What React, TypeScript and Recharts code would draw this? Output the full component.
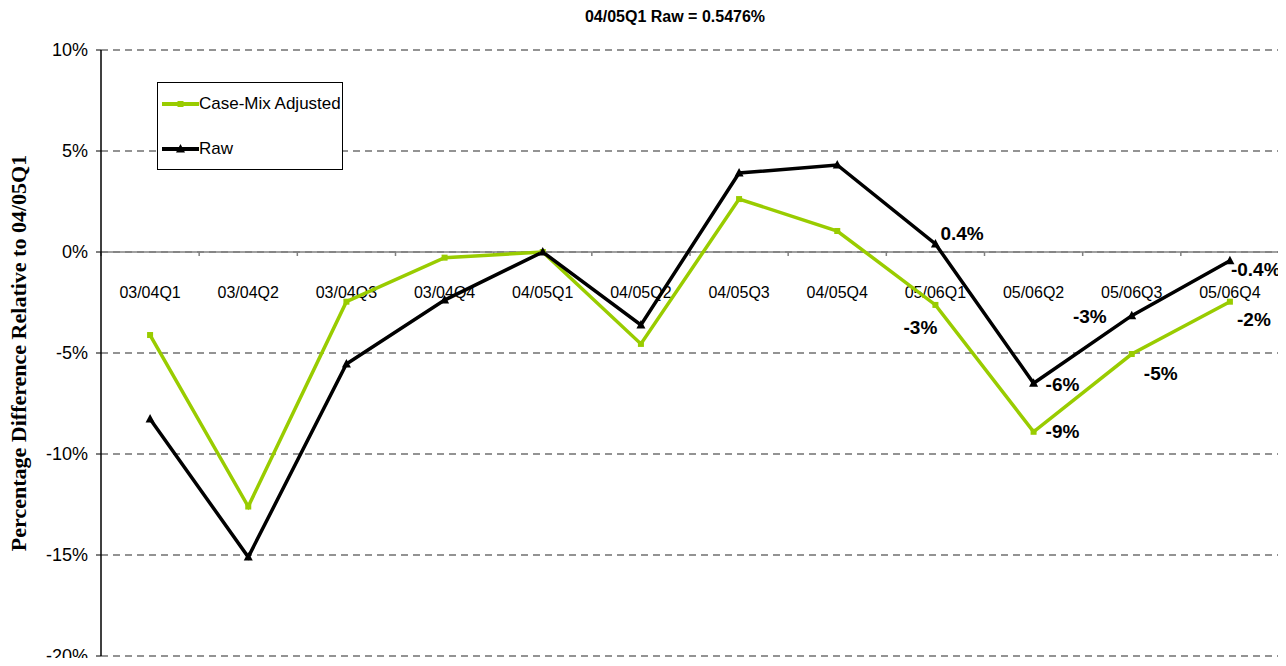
import React from "react";
import {
  LineChart,
  Line,
  XAxis,
  YAxis,
  CartesianGrid,
  ReferenceLine,
  Legend,
  LabelList,
} from "recharts";

const categories = [
  "03/04Q1", "03/04Q2", "03/04Q3", "03/04Q4",
  "04/05Q1", "04/05Q2", "04/05Q3", "04/05Q4",
  "05/06Q1", "05/06Q2", "05/06Q3", "05/06Q4",
];
const adjustedValues = [-4.11, -12.6, -2.46, -0.28, 0, -4.55, 2.62, 1.04, -2.62, -8.9, -5.05, -2.46];
const rawValues = [-8.27, -15.1, -5.54, -2.38, 0, -3.61, 3.91, 4.31, 0.4, -6.5, -3.15, -0.43];
const adjustedLabels = [null, null, null, null, null, null, null, null, "-3%", "-9%", "-5%", "-2%"];
const rawLabels = [null, null, null, null, null, null, null, null, "0.4%", "-6%", "-3%", "-0.4%"];
const yTicks = [-20, -15, -10, -5, 0, 5, 10];
const titleText = "04/05Q1 Raw = 0.5476%";
const yAxisTitle = "Percentage Difference Relative to 04/05Q1";
const seriesNames = { adjusted: "Case-Mix Adjusted", raw: "Raw" };

const data = categories.map((cat, i) => ({
  cat,
  adjusted: adjustedValues[i],
  raw: rawValues[i],
  adjLabel: adjustedLabels[i],
  rawLabel: rawLabels[i],
}));

const GREEN = "#99CC00";
const SANS = "'Liberation Sans', Arial, sans-serif";
const SERIF = "'Liberation Serif', 'Times New Roman', serif";

type Place = { dx: number; dy: number; anchor: "start" | "middle" | "end" };
const rawPlace: Record<number, Place> = {
  8: { dx: 5, dy: -10, anchor: "start" },
  9: { dx: 12, dy: 1, anchor: "start" },
  10: { dx: -25, dy: 1, anchor: "end" },
  11: { dx: 1, dy: 9, anchor: "start" },
};
const adjPlace: Record<number, Place> = {
  8: { dx: -15, dy: 23, anchor: "middle" },
  9: { dx: 12, dy: 0, anchor: "start" },
  10: { dx: 29, dy: 19, anchor: "middle" },
  11: { dx: 24, dy: 18, anchor: "middle" },
};

const makeLabel = (place: Record<number, Place>) => (props: any) => {
  const { x, y, value, index } = props;
  if (value == null || value === "") return null;
  const p = place[index] || { dx: 8, dy: 0, anchor: "start" };
  return (
    <text
      x={x + p.dx}
      y={y + p.dy}
      textAnchor={p.anchor}
      dominantBaseline="central"
      fontFamily={SANS}
      fontWeight="bold"
      fontSize={19}
      fill="#000"
    >
      {value}
    </text>
  );
};

const SquareDot = (props: any) => {
  const { cx, cy } = props;
  if (cx == null || cy == null) return null;
  return <rect x={cx - 3} y={cy - 3} width={6} height={6} fill={GREEN} />;
};

const TriangleDot = (props: any) => {
  const { cx, cy } = props;
  if (cx == null || cy == null) return null;
  return <path d={`M${cx},${cy - 5} L${cx + 4.5},${cy + 3.5} L${cx - 4.5},${cy + 3.5} Z`} fill="#000" />;
};

const ZeroAxisLabel = (props: any) => {
  const vb = props.viewBox || {};
  const x0 = vb.x ?? 0;
  const y0 = vb.y ?? 0;
  const w = vb.width ?? 0;
  const n = categories.length;
  const band = w / n;
  return (
    <g>
      {categories.map((c, i) => (
        <line
          key={"t" + i}
          x1={x0 + i * band}
          x2={x0 + i * band}
          y1={y0}
          y2={y0 + 4}
          stroke="#808080"
          strokeWidth={1.5}
        />
      ))}
      {categories.map((c, i) => (
        <text
          key={"c" + i}
          x={x0 + (i + 0.5) * band}
          y={y0 + 40}
          textAnchor="middle"
          dominantBaseline="central"
          fontFamily={SANS}
          fontSize={16}
          fill="#000"
        >
          {c}
        </text>
      ))}
    </g>
  );
};

const YTitle = (props: any) => {
  const vb = props.viewBox || {};
  const cy = (vb.y ?? 0) + (vb.height ?? 0) / 2;
  const cx = 18;
  return (
    <text
      x={cx}
      y={cy}
      transform={`rotate(-90, ${cx}, ${cy})`}
      textAnchor="middle"
      dominantBaseline="central"
      fontFamily={SERIF}
      fontWeight="bold"
      fontSize={22}
      fill="#000"
    >
      {yAxisTitle}
    </text>
  );
};

const LegendContent = () => (
  <div
    style={{
      width: 186,
      height: 88,
      border: "1px solid #000",
      background: "#fff",
      boxSizing: "border-box",
      position: "relative",
      fontFamily: SANS,
      fontSize: 17,
      color: "#000",
    }}
  >
    <svg width={40} height={12} style={{ position: "absolute", left: 3, top: 15 }}>
      <line x1={1} x2={38} y1={6} y2={6} stroke={GREEN} strokeWidth={4} />
      <rect x={16.5} y={3} width={6} height={6} fill={GREEN} />
    </svg>
    <span style={{ position: "absolute", left: 41, top: 10, lineHeight: "22px", whiteSpace: "nowrap" }}>
      {seriesNames.adjusted}
    </span>
    <svg width={40} height={14} style={{ position: "absolute", left: 3, top: 59 }}>
      <line x1={1} x2={38} y1={7} y2={7} stroke="#000" strokeWidth={4} />
      <path d="M19.5,2 L24,10.5 L15,10.5 Z" fill="#000" />
    </svg>
    <span style={{ position: "absolute", left: 41, top: 55, lineHeight: "22px", whiteSpace: "nowrap" }}>
      {seriesNames.raw}
    </span>
  </div>
);

export default function App() {
  return (
    <div style={{ position: "relative", margin: -8, width: 1286, height: 666, background: "#fff" }}>
      <div
        style={{
          position: "absolute",
          left: 0,
          width: 1350,
          top: 7,
          textAlign: "center",
          fontFamily: SANS,
          fontWeight: "bold",
          fontSize: 16,
          lineHeight: "20px",
          color: "#000",
        }}
      >
        {titleText}
      </div>
      <LineChart
        width={1286}
        height={666}
        data={data}
        margin={{ top: 50, right: 7, bottom: 10, left: 0 }}
      >
        <CartesianGrid
          horizontal
          vertical={false}
          stroke="#707070"
          strokeDasharray="7 5"
          strokeWidth={1.3}
        />
        <XAxis dataKey="cat" hide scale="band" />
        <YAxis
          domain={[-20, 10]}
          ticks={yTicks}
          interval={0}
          width={101}
          allowDataOverflow
          tickFormatter={(v: number) => `${v}%`}
          tick={{ fontFamily: SANS, fontSize: 18, fill: "#000" }}
          tickSize={5}
          tickMargin={8}
          tickLine={{ stroke: "#000" }}
          axisLine={{ stroke: "#000", strokeWidth: 1.5 }}
          label={<YTitle />}
        />
        <YAxis
          yAxisId="right"
          orientation="right"
          width={0}
          tick={false}
          tickLine={false}
          axisLine={{ stroke: "#000", strokeWidth: 1.5 }}
        />
        <ReferenceLine y={0} stroke="#808080" strokeWidth={1.5} label={<ZeroAxisLabel />} />
        <Legend
          layout="vertical"
          align="center"
          verticalAlign="middle"
          content={<LegendContent />}
          wrapperStyle={{ position: "absolute", left: 157, top: 82, width: 186, height: 88 }}
        />
        <Line
          type="linear"
          dataKey="adjusted"
          name={seriesNames.adjusted}
          stroke={GREEN}
          strokeWidth={3.5}
          dot={<SquareDot />}
          activeDot={false}
          isAnimationActive={false}
        >
          <LabelList dataKey="adjLabel" content={makeLabel(adjPlace)} />
        </Line>
        <Line
          type="linear"
          dataKey="raw"
          name={seriesNames.raw}
          stroke="#000"
          strokeWidth={3.5}
          dot={<TriangleDot />}
          activeDot={false}
          isAnimationActive={false}
        >
          <LabelList dataKey="rawLabel" content={makeLabel(rawPlace)} />
        </Line>
      </LineChart>
    </div>
  );
}
